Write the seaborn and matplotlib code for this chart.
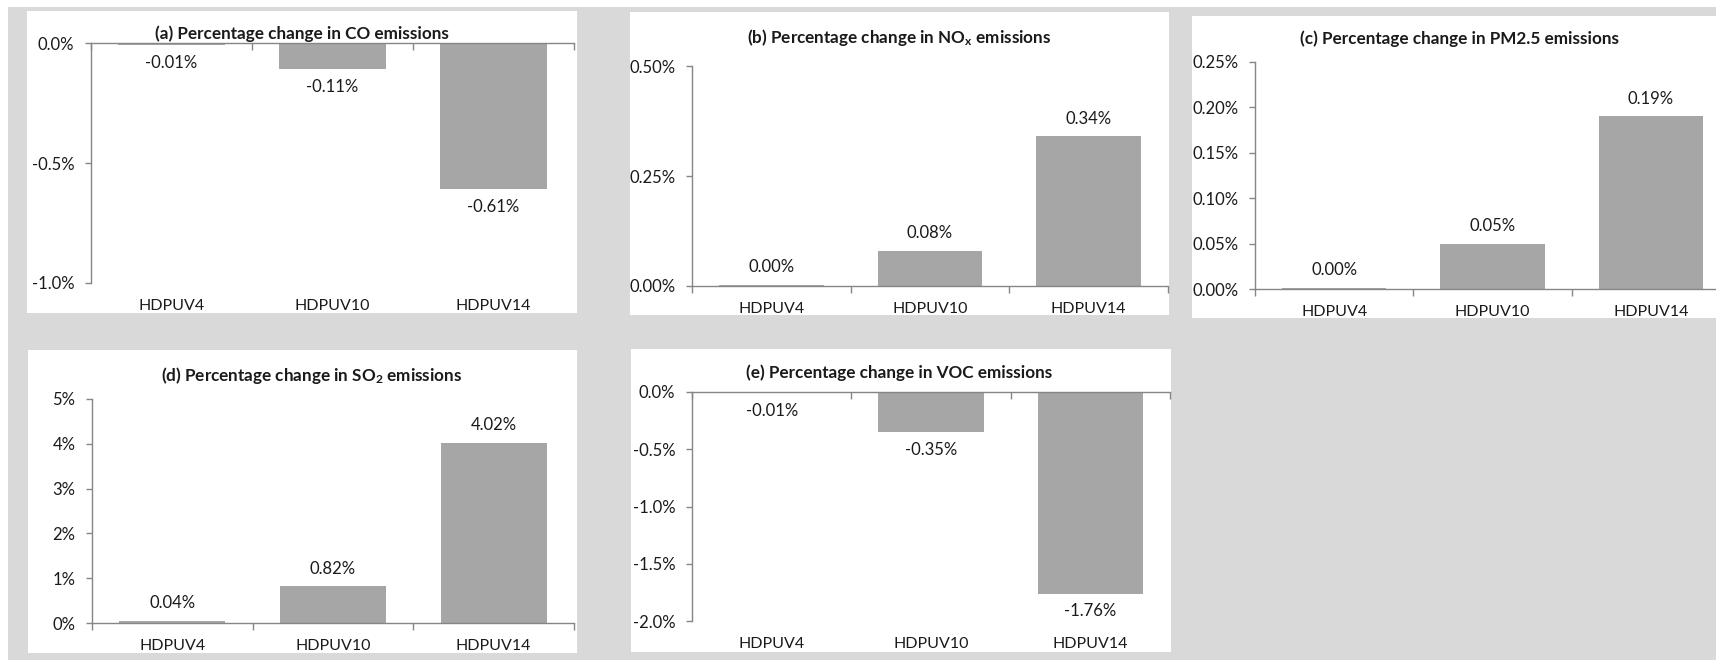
import matplotlib
matplotlib.use('Agg')
import matplotlib.pyplot as plt
from matplotlib.patches import Rectangle
from matplotlib.ticker import FixedLocator, FuncFormatter
import seaborn as sns

categories = ['HDPUV4', 'HDPUV10', 'HDPUV14']
co_change = [-0.01, -0.11, -0.61]
nox_change = [0.003, 0.08, 0.34]
pm25_change = [0.001, 0.05, 0.19]
so2_change = [0.04, 0.82, 4.02]
voc_change = [-0.01, -0.35, -1.76]

co_ticks = [0.0, -0.5, -1.0]
nox_ticks = [0.0, 0.25, 0.5]
pm25_ticks = [0.0, 0.05, 0.10, 0.15, 0.20, 0.25]
so2_ticks = [0, 1, 2, 3, 4, 5]
voc_ticks = [0.0, -0.5, -1.0, -1.5, -2.0]

BAR = '#a6a6a6'
AXIS = '#868686'
BG = '#d9d9d9'
TXT = '#1a1a1a'
W, H = 1716, 660

sns.set_style('white')
plt.rcParams['font.family'] = ['Lato', 'DejaVu Sans']
plt.rcParams['mathtext.fontset'] = 'custom'
plt.rcParams['mathtext.rm'] = 'Lato:bold'
plt.rcParams['mathtext.it'] = 'Lato:bold'
plt.rcParams['mathtext.bf'] = 'Lato:bold'

fig = plt.figure(figsize=(W / 100, H / 100), dpi=100)
fig.patch.set_facecolor(BG)


def box(x0, y0, x1, y1):
    # pixel box (top-left origin) -> figure fraction rect
    return [x0 / W, 1 - y1 / H, (x1 - x0) / W, (y1 - y0) / H]


def white_rect(x0, y0, x1, y1):
    r = box(x0, y0, x1, y1)
    fig.patches.append(Rectangle((r[0], r[1]), r[2], r[3], transform=fig.transFigure,
                                 facecolor='white', edgecolor='none', zorder=-5))


# thin white margins at top and left
white_rect(0, 0, W, 7)
white_rect(0, 0, 8, H)

panels = [
    # values, title, ticks, decimals, axes box, panel box, title centre
    (co_change, '(a) Percentage change in CO emissions', co_ticks, 1,
     (91, 43, 574, 283), (27, 11, 577, 313), (302, 34)),
    (nox_change, '(b) Percentage change in NO$_\\mathrm{x}$ emissions', nox_ticks, 2,
     (692, 66, 1168, 286), (630, 12, 1169, 315), (899, 37)),
    (pm25_change, '(c) Percentage change in PM2.5 emissions', pm25_ticks, 2,
     (1255, 62, 1730, 289), (1192, 16, 1733, 318), (1460, 39)),
    (so2_change, '(d) Percentage change in SO$_\\mathrm{2}$ emissions', so2_ticks, 0,
     (92, 399, 574, 623), (28, 350, 577, 653), (312, 375)),
    (voc_change, '(e) Percentage change in VOC emissions', voc_ticks, 1,
     (692, 392, 1170, 621), (631, 349, 1171, 652), (899, 373)),
]

for values, title, ticks, dec, abox, pbox, tpos in panels:
    white_rect(*pbox)
    ax = fig.add_axes(box(*abox))
    ax.set_zorder(2)
    ax.patch.set_alpha(0)
    sns.barplot(x=categories, y=values, color=BAR, width=0.66, saturation=1,
                edgecolor='none', ax=ax)
    ax.bar_label(ax.containers[0], labels=[f'{v:.2f}%' for v in values],
                 padding=7, fontsize=12, color=TXT)

    negative = min(values) < 0
    ax.set_ylim(min(ticks), max(ticks))
    ax.set_xlim(-0.5, len(categories) - 0.5)
    ax.yaxis.set_major_locator(FixedLocator(ticks))
    ax.yaxis.set_major_formatter(FuncFormatter(lambda v, p, d=dec: f'{v:.{d}f}%'))
    ax.set_xlabel('')
    ax.set_ylabel('')

    for s in ax.spines.values():
        s.set_color(AXIS)
        s.set_linewidth(1)
    ax.spines['right'].set_visible(False)
    ax.spines['bottom' if negative else 'top'].set_visible(False)

    ax.tick_params(axis='y', which='major', left=True, length=4, width=1, color=AXIS,
                   pad=8, labelsize=12, labelcolor=TXT)
    ax.xaxis.set_minor_locator(FixedLocator([-0.5, 0.5, 1.5, 2.5]))
    ax.tick_params(axis='x', which='major', bottom=False, top=False, labelbottom=True,
                   labeltop=False, pad=8, labelsize=11.5, labelcolor=TXT)
    if negative:
        ax.tick_params(axis='x', which='minor', top=True, bottom=False, direction='in',
                       length=5, width=1, color=AXIS)
    else:
        ax.tick_params(axis='x', which='minor', bottom=True, top=False, direction='out',
                       length=5, width=1, color=AXIS)

    fig.text(tpos[0] / W, 1 - tpos[1] / H, title, ha='center', va='center',
             fontsize=12.3, fontweight='bold', color=TXT, zorder=5)

fig.savefig('out.png', dpi=100, facecolor=fig.get_facecolor())
